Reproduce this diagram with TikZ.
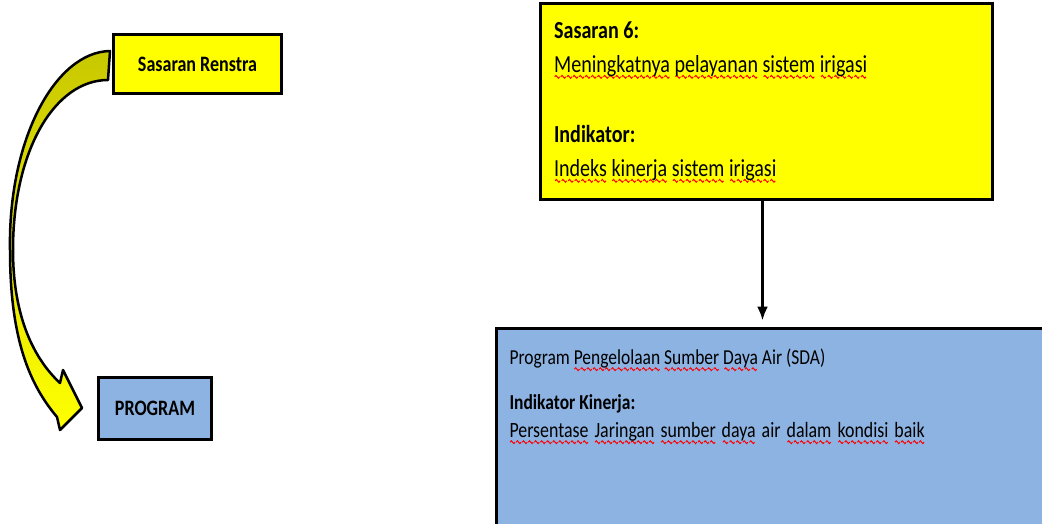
\documentclass[tikz,border=0pt]{standalone}
\usepackage{fontspec}
\setmainfont{Carlito}[FakeStretch=0.82]
\usepackage{tikz}
\usetikzlibrary{arrows.meta,positioning,calc}

\definecolor{sasaranyellow}{HTML}{FFFF00}
\definecolor{arrowolive}{HTML}{C8C800}
\definecolor{programblue}{HTML}{8DB3E2}

% wavy red underline
\newsavebox{\wavebox}
\newcommand{\makewave}{\ifdim\wd\wavebox=0pt
  \global\setbox\wavebox\hbox{\tikz\draw[red, line width=1pt] (0pt,0pt) sin (1.25pt,1.4pt) cos (2.5pt,0pt) sin (3.75pt,-1.4pt) cos (5pt,0pt);}\fi}
\newcommand{\sq}[1]{\makewave\setbox0\hbox{#1}\leavevmode\rlap{\lower6.5pt\hbox to\wd0{\xleaders\copy\wavebox\hfil}}\box0\relax}

\begin{document}
\begin{tikzpicture}[
    x=1pt,
    y=1pt,
    >={Latex[length=14pt,width=11pt]},
    goal/.style={
		rectangle,
		draw=black,
		line width=3pt,
		text centered,
		font=\fontsize{22}{26}\selectfont\bfseries,
		minimum height=59pt,
		minimum width=168pt,
		fill=sasaranyellow
	},
	prog/.style={
		rectangle,
		draw=black,
		line width=3pt,
		text centered,
		font=\fontsize{22}{26}\selectfont\bfseries,
		minimum height=62pt,
		minimum width=113pt,
		fill=programblue
	},
	sheet/.style={
		rectangle,
		draw=black,
		line width=3pt,
%		text width=5cm,
		inner xsep=13.5pt,
		align=left
	},
	curvearrow/.style={
		draw=black,
		line width=2.5pt,
		line join=round,
		top color=arrowolive,
		bottom color=sasaranyellow
	}
  ]

 \useasboundingbox (0,0) rectangle (1042,-524);

 % // left side
 \node [goal] (renstra) at (197.5,-64) {Sasaran Renstra};
 \node [prog] (program) at (155,-408.5) {PROGRAM};

 \coordinate (bendtop) at ([shift={(-2,13)}]renstra.west);
 \coordinate (bendbot) at ([shift={(-4,-16)}]renstra.west);
 \coordinate (tip) at ([shift={(-15,0.5)}]program.west);

 \path [curvearrow] (bendtop) .. controls (55,-52) and (8,-140) .. (10,-250)
   .. controls (10,-340) and (30,-385) .. ([shift={(-25,-9)}]tip)
   -- ([shift={(-22,-22)}]tip) -- (tip) -- ([shift={(-19,38)}]tip)
   -- ([shift={(-22,25)}]tip)
   .. controls (30,-355) and (13,-310) .. (13,-250)
   .. controls (13,-150) and (55,-80) .. (bendbot) -- cycle;

 % // right side
 \node [sheet, fill=sasaranyellow, inner ysep=18pt] (sasaran6) at (766.5,-101.5)
 {%
 \parbox[c][160pt][t]{423pt}{\fontsize{24.5}{34}\selectfont
  \textbf{Sasaran 6:}\\
  \sq{Meningkatnya} \sq{pelayanan} \sq{sistem} \sq{irigasi}\\[36pt]
  \textbf{Indikator:}\\
  \sq{Indeks} \sq{kinerja} \sq{sistem} \sq{irigasi}}
 };

 \node [sheet, fill=programblue, inner ysep=21pt, anchor=north west] (sda) at (494.5,-326.5)
 {%
 \parbox[c][200pt][t]{560pt}{\fontsize{21.3}{28}\selectfont
  Program \sq{Pengelolaan} \sq{Sumber} \sq{Daya} Air (SDA)\\[17pt]
  \textbf{Indikator Kinerja:}\\
  {\fontsize{21.8}{28}\selectfont\spaceskip=6pt
  \sq{Persentase} \sq{Jaringan} \sq{sumber} \sq{daya} air \sq{dalam} \sq{kondisi} \sq{baik}}}
 };

 \draw [->, line width=2.5pt, shorten >=6pt] ([xshift=-4pt]sasaran6.south) -- ([xshift=-4pt]sasaran6.south |- sda.north);

\end{tikzpicture}
\end{document}
